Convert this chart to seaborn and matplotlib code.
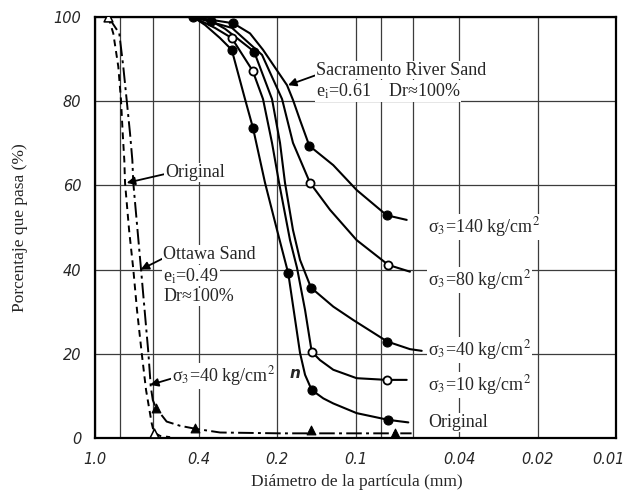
import numpy as np
import pandas as pd
import matplotlib
matplotlib.use("Agg")
import matplotlib.pyplot as plt
import matplotlib.transforms as mtransforms
from matplotlib.ticker import NullFormatter
import seaborn as sns

# ---------------- data (diameter in mm, percent passing) ----------------
# Sacramento River Sand
sac_orig_d = [0.4205, 0.378, 0.3313, 0.2986, 0.2656, 0.2474, 0.2225, 0.2001, 0.1812,
              0.1633, 0.1562, 0.1473, 0.1329, 0.1217, 0.0990, 0.0748, 0.0627]
sac_orig_p = [100, 98.1, 95.0, 92.2, 80.5, 73.6, 60.6, 49.4, 39.1,
              20.2, 15.0, 11.4, 9.4, 8.2, 5.9, 4.3, 3.7]

sac10_d = [0.4205, 0.3463, 0.2986, 0.2481, 0.2265, 0.2092, 0.1965, 0.1784, 0.1677,
           0.1562, 0.1473, 0.1369, 0.1217, 0.0990, 0.0759, 0.0636]
sac10_p = [100, 97.4, 95.0, 87.2, 80.5, 70.1, 60.6, 47.0, 40.4,
           30.4, 20.5, 18.5, 16.2, 14.2, 13.8, 13.8]

sac40_d = [0.4205, 0.3596, 0.317, 0.2452, 0.2092, 0.1949, 0.1865, 0.1738, 0.1633,
           0.1482, 0.1217, 0.1019, 0.0755, 0.0618, 0.0557]
sac40_p = [100, 99.1, 97.2, 91.8, 80.5, 70.1, 60.6, 49.4, 42.3,
           35.7, 31.2, 28.0, 22.9, 21.1, 20.7]

sac80_d = [0.4205, 0.2979, 0.2285, 0.1914, 0.1738, 0.1495, 0.1253, 0.0990, 0.0748, 0.0618]
sac80_p = [100, 97.4, 91.0, 80.5, 70.1, 60.6, 54.2, 47.0, 41.1, 39.5]

sac140_d = [0.4205, 0.2944, 0.2541, 0.2265, 0.1832, 0.1738, 0.1633, 0.1504, 0.1217,
            0.0990, 0.0759, 0.0636]
sac140_p = [100, 98.5, 96.1, 92.2, 83.8, 80.3, 75.5, 69.4, 64.8, 58.9, 52.9, 51.8]

# Sacramento measured points
sac_filled_d = [0.4205, 0.2986, 0.2474, 0.1812, 0.1473, 0.0748,   # original
                0.3596, 0.2452, 0.1482, 0.0755,                   # 40 kg/cm2
                0.2944, 0.1504, 0.0759]                           # 140 kg/cm2
sac_filled_p = [100, 92.2, 73.6, 39.1, 11.4, 4.3,
                99.1, 91.8, 35.7, 22.9,
                98.5, 69.4, 52.9]
sac_open_d = [0.2986, 0.2481, 0.1473, 0.0759,   # 10 kg/cm2
              0.1495, 0.0748]                   # 80 kg/cm2
sac_open_p = [95.0, 87.2, 20.5, 13.8,
              60.6, 41.1]

# Ottawa Sand
ott_orig_d = [0.889, 0.851, 0.814, 0.795, 0.783, 0.772, 0.767, 0.740, 0.713, 0.690,
              0.662, 0.637, 0.606, 0.594, 0.563, 0.515]
ott_orig_p = [100, 96.1, 88.2, 80.3, 72.4, 66.0, 60.6, 49.4, 40.1, 30.4,
              20.2, 11.4, 3.5, 1.3, 0.5, 0.2]

ott40_d = [0.889, 0.807, 0.779, 0.756, 0.734, 0.719, 0.713, 0.666, 0.624, 0.611,
           0.600, 0.583, 0.531, 0.472, 0.413, 0.331, 0.195, 0.148, 0.0705, 0.0609]
ott40_p = [100, 96.1, 88.2, 80.3, 72.4, 66.0, 60.6, 40.1, 20.2, 12.2,
           9.0, 7.1, 3.9, 2.9, 2.2, 1.3, 1.1, 1.1, 1.1, 1.1]

ott_tri_filled_d = [0.583, 0.413, 0.148, 0.0705]
ott_tri_filled_p = [7.1, 2.3, 1.9, 1.3]
ott_tri_open_d = [0.889, 0.594]
ott_tri_open_p = [100, 1.3]

xtick_vals = [1.0, 0.4, 0.2, 0.1, 0.04, 0.02, 0.01]
xtick_labels = ["1.0", "0.4", "0.2", "0.1", "0.04", "0.02", "0.01"]
xgrid_minor = [0.8, 0.6, 0.08, 0.06]
ytick_vals = [0, 20, 40, 60, 80, 100]
ytick_labels = ["0", "20", "40", "60", "80", "100"]

# ---------------- style ----------------
sns.set_style("white")
plt.rcParams['font.family'] = ['Liberation Serif', 'DejaVu Serif']
plt.rcParams['mathtext.fontset'] = 'stix'

fig = plt.figure(figsize=(6.26, 4.95), dpi=100)
ax = fig.add_axes([0.1518, 0.1152, 0.8322, 0.8505])
ax.set_xscale('log')

solid = dict(color='black', lw=1.5)
for d, p in [(sac_orig_d, sac_orig_p), (sac10_d, sac10_p), (sac40_d, sac40_p),
             (sac80_d, sac80_p), (sac140_d, sac140_p)]:
    sns.lineplot(x=d, y=p, ax=ax, sort=False, estimator=None, **solid)

sns.lineplot(x=ott_orig_d, y=ott_orig_p, ax=ax, sort=False, estimator=None,
             color='black', lw=1.4, linestyle=(0, (3.5, 2.5)))
sns.lineplot(x=ott40_d, y=ott40_p, ax=ax, sort=False, estimator=None,
             color='black', lw=1.4, linestyle=(0, (8, 2.2, 1.5, 2.2)))

sns.scatterplot(x=sac_filled_d, y=sac_filled_p, ax=ax, marker='o', s=42,
                color='black', edgecolor='black', linewidth=0.8, zorder=5)
sns.scatterplot(x=sac_open_d, y=sac_open_p, ax=ax, marker='o', s=34,
                color='white', edgecolor='black', linewidth=1.3, zorder=5)
sns.scatterplot(x=ott_tri_filled_d, y=ott_tri_filled_p, ax=ax, marker='^', s=40,
                color='black', edgecolor='black', linewidth=0.8, zorder=5)
sns.scatterplot(x=ott_tri_open_d, y=ott_tri_open_p, ax=ax, marker='^', s=40,
                color='white', edgecolor='black', linewidth=1.1, zorder=5)

ax.set_xlim(1.0, 0.01)
ax.set_ylim(0, 100)
ax.set_xticks(xtick_vals)
ax.set_xticklabels(xtick_labels)
ax.set_xticks(xgrid_minor, minor=True)
ax.xaxis.set_minor_formatter(NullFormatter())
ax.set_yticks(ytick_vals)
ax.set_yticklabels(ytick_labels)
ax.tick_params(which='both', length=0, pad=10)
ax.grid(True, which='both', color='#3c3c3c', lw=0.9)
ax.set_axisbelow(True)
for lbl in ax.get_xticklabels() + ax.get_yticklabels():
    lbl.set_fontfamily('DejaVu Sans')
    lbl.set_fontstyle('italic')
    lbl.set_fontsize(10.5)
# keep the last x tick label inside the figure
last = ax.get_xticklabels()[-1]
last.set_transform(last.get_transform() +
                   mtransforms.ScaledTranslation(-8 / 100, 0, fig.dpi_scale_trans))
for sp in ax.spines.values():
    sp.set_color('black')
    sp.set_linewidth(1.6)

ax.set_xlabel('Diámetro de la partícula (mm)', fontsize=12.5)
ax.xaxis.set_label_coords(0.502, -0.085)
ax.set_ylabel('Porcentaje que pasa (%)', fontsize=12.5)
ax.yaxis.set_label_coords(-0.128, 0.5)

box = dict(fc='white', ec='none', pad=0.6)
arrow = dict(arrowstyle='-|>', color='black', lw=1.3, mutation_scale=12,
             shrinkA=0, shrinkB=0)
fs = 13

ax.annotate('Sacramento River Sand', xy=(0.1816, 83.8), xytext=(0.1418, 87.4),
            ha='left', va='center', fontsize=fs, bbox=box,
            arrowprops=dict(arrow, relpos=(0, 0.2)))
ax.text(0.1418, 82.4, 'e$_{\\rm i}$=0.61    Dr≈100%', ha='left', va='center',
        fontsize=fs, bbox=box)

ax.annotate('Original', xy=(0.756, 60.6), xytext=(0.5386, 63.1),
            ha='left', va='center', fontsize=fs, bbox=box,
            arrowprops=dict(arrow, relpos=(0, 0.4)))
ax.annotate('Ottawa Sand', xy=(0.668, 40.0), xytext=(0.5468, 43.5),
            ha='left', va='center', fontsize=fs, bbox=box,
            arrowprops=dict(arrow, relpos=(0, 0.3)))
ax.text(0.5468, 38.5, 'e$_{\\rm i}$=0.49', ha='left', va='center', fontsize=fs, bbox=box)
ax.text(0.5468, 33.5, 'Dr≈100%', ha='left', va='center', fontsize=fs, bbox=box)
ax.annotate('σ$_3$=40 kg/cm$^2$', xy=(0.615, 12.6), xytext=(0.5076, 14.7),
            ha='left', va='center', fontsize=fs, bbox=box,
            arrowprops=dict(arrow, relpos=(0, 0.4)))

right_x = 0.0527
for txt, yy in [('σ$_3$=140 kg/cm$^2$', 50.2), ('σ$_3$=80 kg/cm$^2$', 37.5),
                ('σ$_3$=40 kg/cm$^2$', 20.9), ('σ$_3$=10 kg/cm$^2$', 12.6),
                ('Original', 3.6)]:
    ax.text(right_x, yy, txt, ha='left', va='center', fontsize=fs, bbox=box)

ax.text(0.1707, 15.4, 'n', ha='center', va='center', fontsize=11,
        fontstyle='italic', fontweight='bold', family='DejaVu Sans')

fig.savefig('out.png', dpi=100)
